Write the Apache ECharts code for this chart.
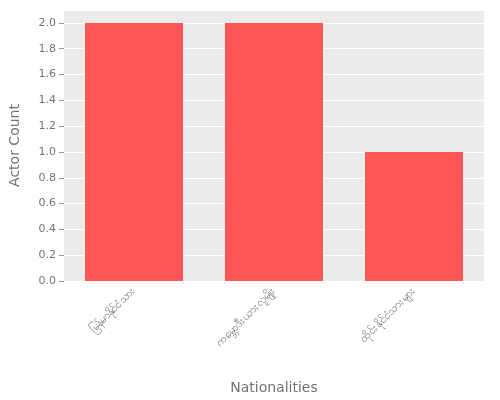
<!DOCTYPE html><html><head><meta charset="utf-8"><script src="https://cdn.jsdelivr.net/npm/echarts@6/dist/echarts.min.js"></script></head><body style="margin:0"><div id="c" style="width:500px;height:400px"></div><script>
const categories = ["မြန်မာနိုင်ငံသား", "ကမ္ဘောဒီးယားလူမျိုး", "ထိုင်းနိုင်ငံသားများ"];
const values = [2, 2, 1];
const c = echarts.init(document.getElementById('c'));
c.setOption({
  textStyle:{fontFamily:'DejaVu Sans'},
  grid:{left:60,right:16,top:10,bottom:119,backgroundColor:'#EBEBEB',show:true,borderWidth:0},
  xAxis:{type:'category',data:categories,name:'Nationalities',nameLocation:'middle',nameGap:100,
    nameTextStyle:{fontSize:14,color:'#737373'},
    axisLine:{show:false},axisTick:{alignWithLabel:true,lineStyle:{color:'#999'}},
    axisLabel:{rotate:45,color:'#737373',fontSize:11,interval:0}},
  yAxis:{type:'value',min:0,max:2.1,interval:0.2,name:'Actor Count',nameLocation:'middle',nameGap:42,
    nameTextStyle:{fontSize:14,color:'#737373'},
    axisLabel:{color:'#737373',fontSize:11,showMaxLabel:false,formatter:v=>v.toFixed(1)},
    axisTick:{show:true,lineStyle:{color:'#999'}},axisLine:{show:false},
    splitLine:{lineStyle:{color:'#fff'}}},
  series:[{type:'bar',data:values,barWidth:'70%',itemStyle:{color:'#FF5555'}}]
});
</script></body></html>
